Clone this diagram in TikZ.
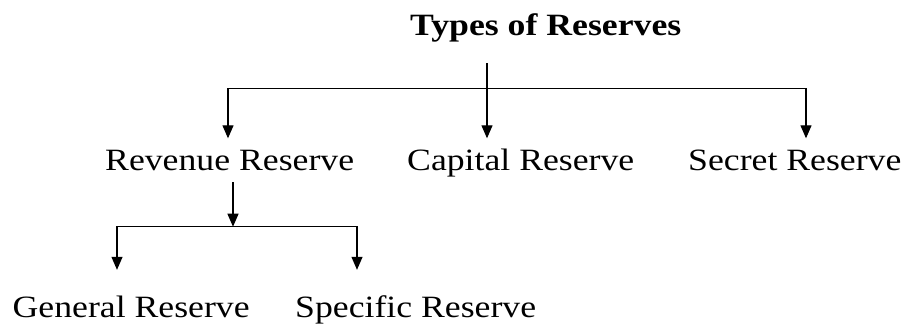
\documentclass[tikz,border=0pt]{standalone}
\usepackage{fontspec}
\setmainfont{Liberation Serif}[FakeStretch=1.152]
\usetikzlibrary{arrows.meta}
\begin{document}
\begin{tikzpicture}[x=1pt,y=1pt,
  >={Triangle[width=11pt,length=13pt]},
  conn/.style={line width=1.2pt, black},
  arr/.style={conn,->},
  arrtwo/.style={conn,<->},
  lbl/.style={inner xsep=0pt, anchor=base west, text height=21pt, text depth=7pt, font=\fontsize{31}{37}\selectfont},
  rowtwo/.style={lbl, inner ysep=11pt},
  rowthree/.style={lbl, inner ysep=26pt},
  ttl/.style={inner sep=0pt, anchor=base west, font=\fontsize{31}{37}\selectfont\bfseries}
]
\useasboundingbox (0,0) rectangle (904,-325);
\fill[white] (0,0) rectangle (904,-325);

\node[ttl] (title) at (410,-35.3) {Types of Reserves};

\node[rowtwo] (rev) at (105,-170.5) {Revenue Reserve};
\node[rowtwo] (cap) at (407,-170.5) {Capital Reserve};
\node[rowtwo] (sec) at (688,-170.5) {Secret Reserve};

\node[rowthree] (gen) at (12.5,-317) {General Reserve};
\node[rowthree] (spe) at (295,-317) {Specific Reserve};

\coordinate (stem) at (487,-63);
\coordinate (barL) at (228,-88.5);
\coordinate (barR) at (806,-88.5);
\draw[arrtwo] (barL |- rev.north) -- (barL) -- (barR) -- (barR |- sec.north);
\draw[arr] (stem) -- (stem |- cap.north);

\coordinate (rstem) at (233,-182);
\coordinate (subL) at (117,-226.7);
\coordinate (subR) at (357,-226.7);
\draw[arr] (rstem) -- (rstem |- subL);
\draw[arrtwo] (subL |- gen.north) -- (subL) -- (subR) -- (subR |- spe.north);
\end{tikzpicture}
\end{document}
